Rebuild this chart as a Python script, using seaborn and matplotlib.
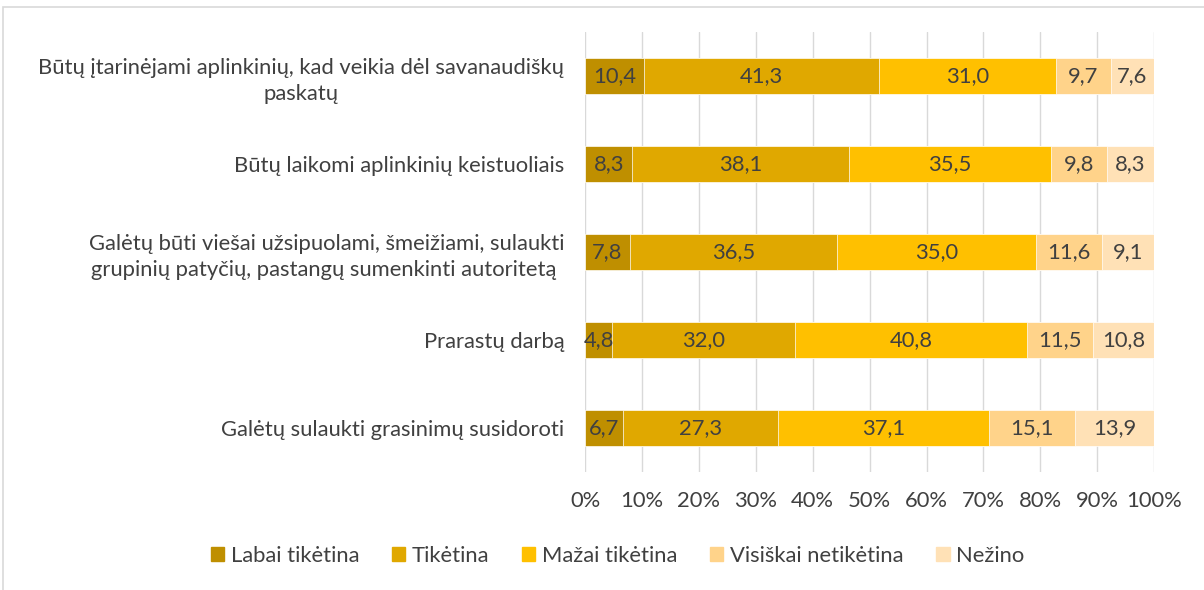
import matplotlib
matplotlib.use("Agg")
import matplotlib.pyplot as plt
from matplotlib.patches import Rectangle
import seaborn as sns
import pandas as pd
import numpy as np

categories = [
    "Būtų įtarinėjami aplinkinių, kad veikia dėl savanaudiškų\npaskatų",
    "Būtų laikomi aplinkinių keistuoliais",
    "Galėtų būti viešai užsipuolami, šmeižiami, sulaukti\ngrupinių patyčių, pastangų sumenkinti autoritetą ",
    "Prarastų darbą",
    "Galėtų sulaukti grasinimų susidoroti",
]
series = ["Labai tikėtina", "Tikėtina", "Mažai tikėtina", "Visiškai netikėtina", "Nežino"]
labai = [10.4, 8.3, 7.8, 4.8, 6.7]
tiketina = [41.3, 38.1, 36.5, 32.0, 27.3]
mazai = [31.0, 35.5, 35.0, 40.8, 37.1]
visiskai = [9.7, 9.8, 11.6, 11.5, 15.1]
nezino = [7.6, 8.3, 9.1, 10.8, 13.9]
colors = ["#BF8F00", "#E0A800", "#FFC000", "#FFD38A", "#FFE1B6"]
tick_labels = [f"{v}%" for v in range(0, 101, 10)]

sns.set_theme(style="white")
plt.rcParams["font.family"] = ["Lato", "DejaVu Sans"]
text_color = "#404040"
fs = 15.8

vals = np.array([labai, tiketina, mazai, visiskai, nezino]).T
totals = vals.sum(axis=1, keepdims=True)
shares = vals / totals * 100
cum = np.cumsum(shares, axis=1)

fig = plt.figure(figsize=(12.04, 5.90), dpi=100)
ax = fig.add_axes([0.486, 0.2, 0.4726, 0.7458])

# draw cumulative totals from the last series down so each segment shows
for i in range(len(series) - 1, -1, -1):
    df = pd.DataFrame({"cat": categories, "val": cum[:, i]})
    sns.barplot(data=df, x="val", y="cat", orient="h", color=colors[i],
                width=0.4, saturation=1, ax=ax, zorder=2, linewidth=0.5)

for r in range(len(categories)):
    for i in range(len(series)):
        center = cum[r, i] - shares[r, i] / 2
        ax.text(center, r, f"{vals[r, i]:.1f}".replace(".", ","),
                ha="center", va="center", fontsize=fs, color=text_color, zorder=3)

ax.set_xlim(0, 100)
ax.set_ylim(4.5, -0.5)
ax.set_xticks(range(0, 101, 10))
ax.set_xticklabels(tick_labels, fontsize=fs, color=text_color)
ax.set_yticks(range(len(categories)))
ax.set_yticklabels(categories, fontsize=fs, color=text_color,
                   multialignment="center", linespacing=1.4)
ax.set_xlabel("")
ax.set_ylabel("")
ax.tick_params(axis="x", length=0, pad=14)
ax.tick_params(axis="y", length=0, pad=15)
ax.grid(axis="x", color="#D9D9D9", linewidth=1, zorder=0)
ax.set_axisbelow(True)
for s in ax.spines.values():
    s.set_visible(False)

handles = [Rectangle((0, 0), 1, 1, color=c) for c in colors]
fig.legend(handles, series, loc="center", bbox_to_anchor=(0.513, 0.058), ncol=5,
           frameon=False, fontsize=fs, handlelength=0.6, handleheight=0.6,
           handletextpad=0.3, columnspacing=1.5, labelcolor=text_color)

fig.patches.append(Rectangle((0.0025, -0.01), 1.0, 0.998, transform=fig.transFigure,
                             fill=False, edgecolor="#D9D9D9", linewidth=1.2))

fig.savefig("out.png", dpi=100)
